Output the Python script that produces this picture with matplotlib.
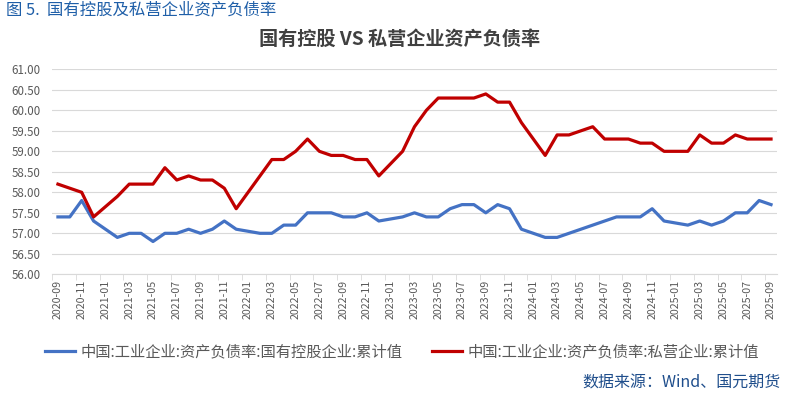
import numpy as np
import pandas as pd
import matplotlib
matplotlib.use('Agg')
import matplotlib.pyplot as plt

plt.rcParams['font.family'] = ['Noto Sans CJK SC', 'DejaVu Sans']

months = pd.date_range('2020-09', '2025-09', freq='MS').strftime('%Y-%m').tolist()

# 国有控股企业 资产负债率 累计值
soe = [57.4, 57.4, 57.8, 57.3, 57.1, 56.9, 57.0, 57.0, 56.8, 57.0,
       57.0, 57.1, 57.0, 57.1, 57.3, 57.1, 57.05, 57.0, 57.0, 57.2,
       57.2, 57.5, 57.5, 57.5, 57.4, 57.4, 57.5, 57.3, 57.35, 57.4,
       57.5, 57.4, 57.4, 57.6, 57.7, 57.7, 57.5, 57.7, 57.6, 57.1,
       57.0, 56.9, 56.9, 57.0, 57.1, 57.2, 57.3, 57.4, 57.4, 57.4,
       57.6, 57.3, 57.25, 57.2, 57.3, 57.2, 57.3, 57.5, 57.5, 57.8,
       57.7]
# 私营企业 资产负债率 累计值
private = [58.2, 58.1, 58.0, 57.4, 57.65, 57.9, 58.2, 58.2, 58.2, 58.6,
           58.3, 58.4, 58.3, 58.3, 58.1, 57.6, 58.0, 58.4, 58.8, 58.8,
           59.0, 59.3, 59.0, 58.9, 58.9, 58.8, 58.8, 58.4, 58.7, 59.0,
           59.6, 60.0, 60.3, 60.3, 60.3, 60.3, 60.4, 60.2, 60.2, 59.7,
           59.3, 58.9, 59.4, 59.4, 59.5, 59.6, 59.3, 59.3, 59.3, 59.2,
           59.2, 59.0, 59.0, 59.0, 59.4, 59.2, 59.2, 59.4, 59.3, 59.3,
           59.3]

label_soe = '中国:工业企业:资产负债率:国有控股企业:累计值'
label_pri = '中国:工业企业:资产负债率:私营企业:累计值'

gray = '#595959'
fig = plt.figure(figsize=(7.9, 3.94), dpi=100)
ax = fig.add_axes([0.0658, 0.3038, 0.9177, 0.5202])

x = np.arange(len(months))
ax.plot(x, soe, color='#4472C4', linewidth=2.3, label=label_soe)
ax.plot(x, private, color='#C00000', linewidth=2.3, label=label_pri)

ax.set_xlim(-0.5, len(months) - 0.5)
ax.set_ylim(56, 61)
ax.set_yticks(np.arange(56, 61.01, 0.5))
ax.set_yticklabels(['%.2f' % v for v in np.arange(56, 61.01, 0.5)], fontsize=8.3, color=gray)
ax.grid(axis='y', color='#d9d9d9', linewidth=0.8)
ax.set_axisbelow(True)

ax.set_xticks(x[::2])
ax.set_xticklabels(months[::2], rotation=90, fontsize=7.7, color=gray)
ax.set_xticks(np.arange(-0.5, len(months), 2), minor=True)
ax.tick_params(axis='x', which='major', length=0, pad=4)
ax.tick_params(axis='x', which='minor', length=4, color='#d9d9d9')
ax.tick_params(axis='y', length=0, pad=8)

for s in ['top', 'right', 'left']:
    ax.spines[s].set_visible(False)
ax.spines['bottom'].set_color('#d9d9d9')

fig.text(0.506, 0.9, '国有控股 VS 私营企业资产负债率', ha='center', va='center',
         fontsize=13.8, fontweight='bold', color='#404040')
fig.text(0.008, 0.975, '图 5.  国有控股及私营企业资产负债率', ha='left', va='center',
         fontsize=11.8, color='#1F5FA8')
fig.text(0.988, 0.027, '数据来源：Wind、国元期货', ha='right', va='center',
         fontsize=11.5, color='#1F4E8C')

fig.legend(loc='center', bbox_to_anchor=(0.509, 0.107), ncol=2, frameon=False,
           fontsize=11, labelcolor=gray, handlelength=2.0, columnspacing=1.9,
           handletextpad=0.35)

fig.savefig('out.png', dpi=100)
